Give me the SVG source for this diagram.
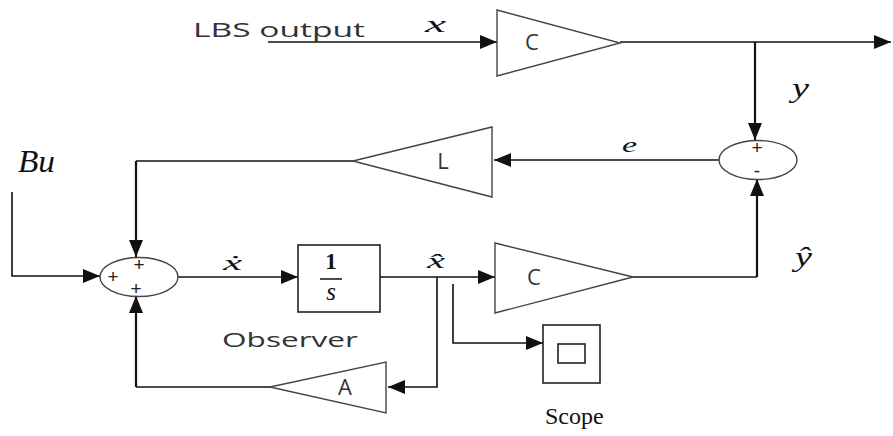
<svg xmlns="http://www.w3.org/2000/svg" width="893" height="436" viewBox="0 0 893 436">
  <style>
    .wire { fill: none; stroke: #111; stroke-width: 1.6; }
    .wire-v { fill: none; stroke: #111; stroke-width: 2.2; }
    .gain { fill: #fff; stroke: #444; stroke-width: 1.4; }
    .box { fill: #fff; stroke: #222; stroke-width: 1.6; }
    .sum { fill: #fff; stroke: #444; stroke-width: 1.4; }
    .lbl { font-family: "Open Sans", "Liberation Sans", sans-serif; fill: #333; }
    .blk { font-family: "Open Sans", "Liberation Sans", sans-serif; fill: #333; font-size: 22px; text-anchor: middle; }
    .math { font-family: "Liberation Serif", "DejaVu Serif", serif; font-style: italic; fill: #111; }
    .sign { font-family: "Liberation Sans", sans-serif; font-size: 19px; fill: #222; text-anchor: middle; }
    .serif { font-family: "Liberation Serif", serif; fill: #111; }
  </style>
  <defs>
    <marker id="arrow" markerUnits="userSpaceOnUse" markerWidth="17" markerHeight="14" refX="17" refY="7" orient="auto">
      <path d="M0,0 L17,7 L0,14 z" fill="#111"/>
    </marker>
  </defs>

  <rect width="893" height="436" fill="#fff"/>

  <!-- connectors -->
  <g id="connectors">
    <path class="wire" d="M268,42 H497" marker-end="url(#arrow)"/>
    <path class="wire" d="M620,42 H891" marker-end="url(#arrow)"/>
    <path class="wire-v" d="M755,42 V140" marker-end="url(#arrow)"/>
    <path class="wire" d="M719,160 H494" marker-end="url(#arrow)"/>
    <path class="wire" d="M353,161 H136"/>
    <path class="wire-v" d="M136,161 V257" marker-end="url(#arrow)"/>
    <path class="wire" d="M12,192 V276 H100" marker-end="url(#arrow)"/>
    <path class="wire" d="M178,277 H298" marker-end="url(#arrow)"/>
    <path class="wire" d="M380,277 H495" marker-end="url(#arrow)"/>
    <path class="wire" d="M633,277 H757"/>
    <path class="wire-v" d="M757,277 V179" marker-end="url(#arrow)"/>
    <path class="wire" d="M437,277 V387 H388" marker-end="url(#arrow)"/>
    <path class="wire" d="M270,387 H136"/>
    <path class="wire-v" d="M136,387 V296" marker-end="url(#arrow)"/>
    <path class="wire" d="M453,284 V343 H543" marker-end="url(#arrow)"/>
  </g>

  <!-- signal labels -->
  <g id="labels">
    <text class="lbl" x="193" y="37" font-size="20" textLength="172" lengthAdjust="spacingAndGlyphs">LBS output</text>
    <text class="math" x="425" y="32" font-size="24" textLength="21" lengthAdjust="spacingAndGlyphs">x</text>
    <text class="math" x="792" y="97" font-size="28" textLength="17" lengthAdjust="spacingAndGlyphs">y</text>
    <text class="math" x="622" y="152" font-size="22" textLength="15" lengthAdjust="spacingAndGlyphs">e</text>
    <text class="math" x="18" y="172" font-size="32" textLength="37" lengthAdjust="spacingAndGlyphs">Bu</text>
    <text class="math" x="223" y="270" font-size="22" textLength="19" lengthAdjust="spacingAndGlyphs">ẋ</text>
    <text class="math" x="427" y="268" font-size="22" textLength="18" lengthAdjust="spacingAndGlyphs">x̂</text>
    <text class="math" x="795" y="266" font-size="28" textLength="17" lengthAdjust="spacingAndGlyphs">ŷ</text>
    <text class="lbl" x="222" y="347" font-size="20" textLength="136" lengthAdjust="spacingAndGlyphs">Observer</text>
  </g>

  <!-- measurement gain -->
  <g id="gain-c-top">
    <polygon class="gain" points="497,10 497,76 620,43"/>
    <text class="blk" x="532" y="50">C</text>
  </g>

  <!-- output comparison junction -->
  <g id="sum-error">
    <ellipse class="sum" cx="758" cy="160" rx="39" ry="19.5"/>
    <text class="sign" x="757" y="154">+</text>
    <text class="sign" x="757" y="177">-</text>
  </g>

  <!-- observer gain -->
  <g id="gain-l">
    <polygon class="gain" points="492,127 492,197 353,161"/>
    <text class="blk" x="443" y="169">L</text>
  </g>

  <!-- state derivative junction -->
  <g id="sum-state">
    <ellipse class="sum" cx="139" cy="277" rx="39" ry="19.5"/>
    <text class="sign" x="113" y="283">+</text>
    <text class="sign" x="139" y="271">+</text>
    <text class="sign" x="136" y="295">+</text>
  </g>

  <!-- integrator -->
  <g id="integrator">
    <rect class="box" x="298" y="245" width="82" height="67"/>
    <text class="serif" x="331" y="269" font-size="23" font-weight="bold" text-anchor="middle">1</text>
    <line x1="320" y1="279" x2="342" y2="279" stroke="#111" stroke-width="1.5"/>
    <text class="serif" x="331" y="300" font-size="25" font-style="italic" text-anchor="middle">s</text>
  </g>

  <!-- estimated output gain -->
  <g id="gain-c-bottom">
    <polygon class="gain" points="495,243 495,313 633,277"/>
    <text class="blk" x="534" y="285">C</text>
  </g>

  <!-- system matrix gain -->
  <g id="gain-a">
    <polygon class="gain" points="386,362 386,413 270,387"/>
    <text class="blk" x="345" y="395">A</text>
  </g>

  <!-- scope -->
  <g id="scope">
    <rect class="box" x="543" y="325" width="57" height="58"/>
    <rect class="box" x="558" y="344" width="27" height="19"/>
    <text class="serif" x="545" y="424" font-size="24">Scope</text>
  </g>
</svg>
